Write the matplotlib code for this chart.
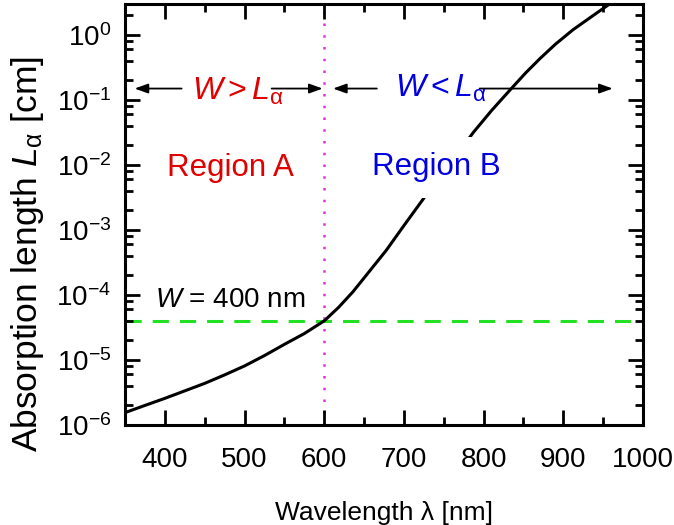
import numpy as np
import matplotlib
matplotlib.use('Agg')
from matplotlib import pyplot as plt
from matplotlib.ticker import MultipleLocator, LogLocator, NullFormatter

plt.rcParams['font.family'] = ['Liberation Sans', 'DejaVu Sans']
plt.rcParams['mathtext.fontset'] = 'custom'
plt.rcParams['mathtext.rm'] = 'Liberation Sans'
plt.rcParams['mathtext.it'] = 'Liberation Sans:italic'
plt.rcParams['mathtext.bf'] = 'Liberation Sans:bold'
plt.rcParams['axes.unicode_minus'] = False

# absorption length vs wavelength
wavelength = [350, 375, 400, 425, 450, 475, 500, 525, 550, 575, 600, 618, 636, 657,
              678, 700, 728, 760, 787, 810, 835, 853, 871, 890, 912, 935, 956]
abs_length = [1.55e-6, 2.0e-6, 2.57e-6, 3.35e-6, 4.37e-6, 5.9e-6, 8.1e-6, 1.17e-5,
              1.74e-5, 2.55e-5, 4.0e-5, 6.45e-5, 1.12e-4, 2.34e-4, 4.9e-4, 1.17e-3,
              3.47e-3, 1.12e-2, 3.16e-2, 6.9e-2, 0.151, 0.263, 0.437, 0.72, 1.2,
              1.9, 2.88]

W_cm = 4.0e-5        # W = 400 nm
lam_edge = 600       # boundary between regions
arrow_y = 0.15

fig = plt.figure(figsize=(6.74, 5.25), dpi=100)
ax = fig.add_axes([0.1855, 0.1905, 0.7685, 0.8019])

ax.plot(wavelength, abs_length, color='black', lw=2.2, zorder=2)
ax.axhline(W_cm, color='#22e022', lw=2.2, ls=(0, (5.3, 3.6)), zorder=1)
ax.axvline(lam_edge, color='#e030e0', lw=1.8, ls=(0, (1, 3.7)), zorder=1)

ax.set_yscale('log')
ax.set_xlim(350, 1000)
ax.set_ylim(1e-6, 3)

ax.xaxis.set_major_locator(MultipleLocator(100))
ax.xaxis.set_minor_locator(MultipleLocator(50))
ax.yaxis.set_major_locator(LogLocator(base=10, numticks=20))
ax.yaxis.set_minor_locator(LogLocator(base=10, subs=(2, 4, 6, 8), numticks=20))
ax.yaxis.set_minor_formatter(NullFormatter())

ax.tick_params(which='both', direction='in', top=True, right=True, width=2.0)
ax.tick_params(which='major', length=11)
ax.tick_params(which='minor', length=6)
ax.tick_params(axis='x', which='major', labelsize=20, pad=16)
ax.tick_params(axis='y', which='major', labelsize=20, pad=10)
for sp in ax.spines.values():
    sp.set_linewidth(2.2)

ax.set_xlabel('Wavelength λ [nm]', fontsize=19, labelpad=20)
ax.set_ylabel(r'Absorption length $L_{\mathrm{\alpha}}$ [cm]', fontsize=25.5)
ax.yaxis.set_label_coords(-0.152, 0.406)

# arrows marking the two regions
arr = dict(arrowstyle='-|>,head_length=0.5,head_width=0.18', color='black', lw=1.3,
           shrinkA=0, shrinkB=0, mutation_scale=16)
ax.annotate('', xy=(362, arrow_y), xytext=(421, arrow_y), arrowprops=arr)
ax.annotate('', xy=(598, arrow_y), xytext=(534, arrow_y), arrowprops=arr)
ax.annotate('', xy=(611, arrow_y), xytext=(666, arrow_y), arrowprops=arr)
ax.annotate('', xy=(962, arrow_y), xytext=(795, arrow_y), arrowprops=arr)

ax.text(434, 0.1, r'$W > L_{\mathrm{\alpha}}$', color='#e00000', fontsize=23, va='baseline')
ax.text(689, 0.11, r'$W < L_{\mathrm{\alpha}}$', color='#0000e0', fontsize=23, va='baseline')

ax.text(403, 0.0068, 'Region A', color='#e00000', fontsize=22.5, va='baseline')
ax.text(660, 0.0069, 'Region B', color='#0000e0', fontsize=22.5, va='baseline',
        bbox=dict(boxstyle='square,pad=0.5', fc='white', ec='none'))

ax.text(388, 6.5e-5, r'$W$ = 400 nm', color='black', fontsize=20, va='baseline')

fig.savefig('out.png', dpi=100)
